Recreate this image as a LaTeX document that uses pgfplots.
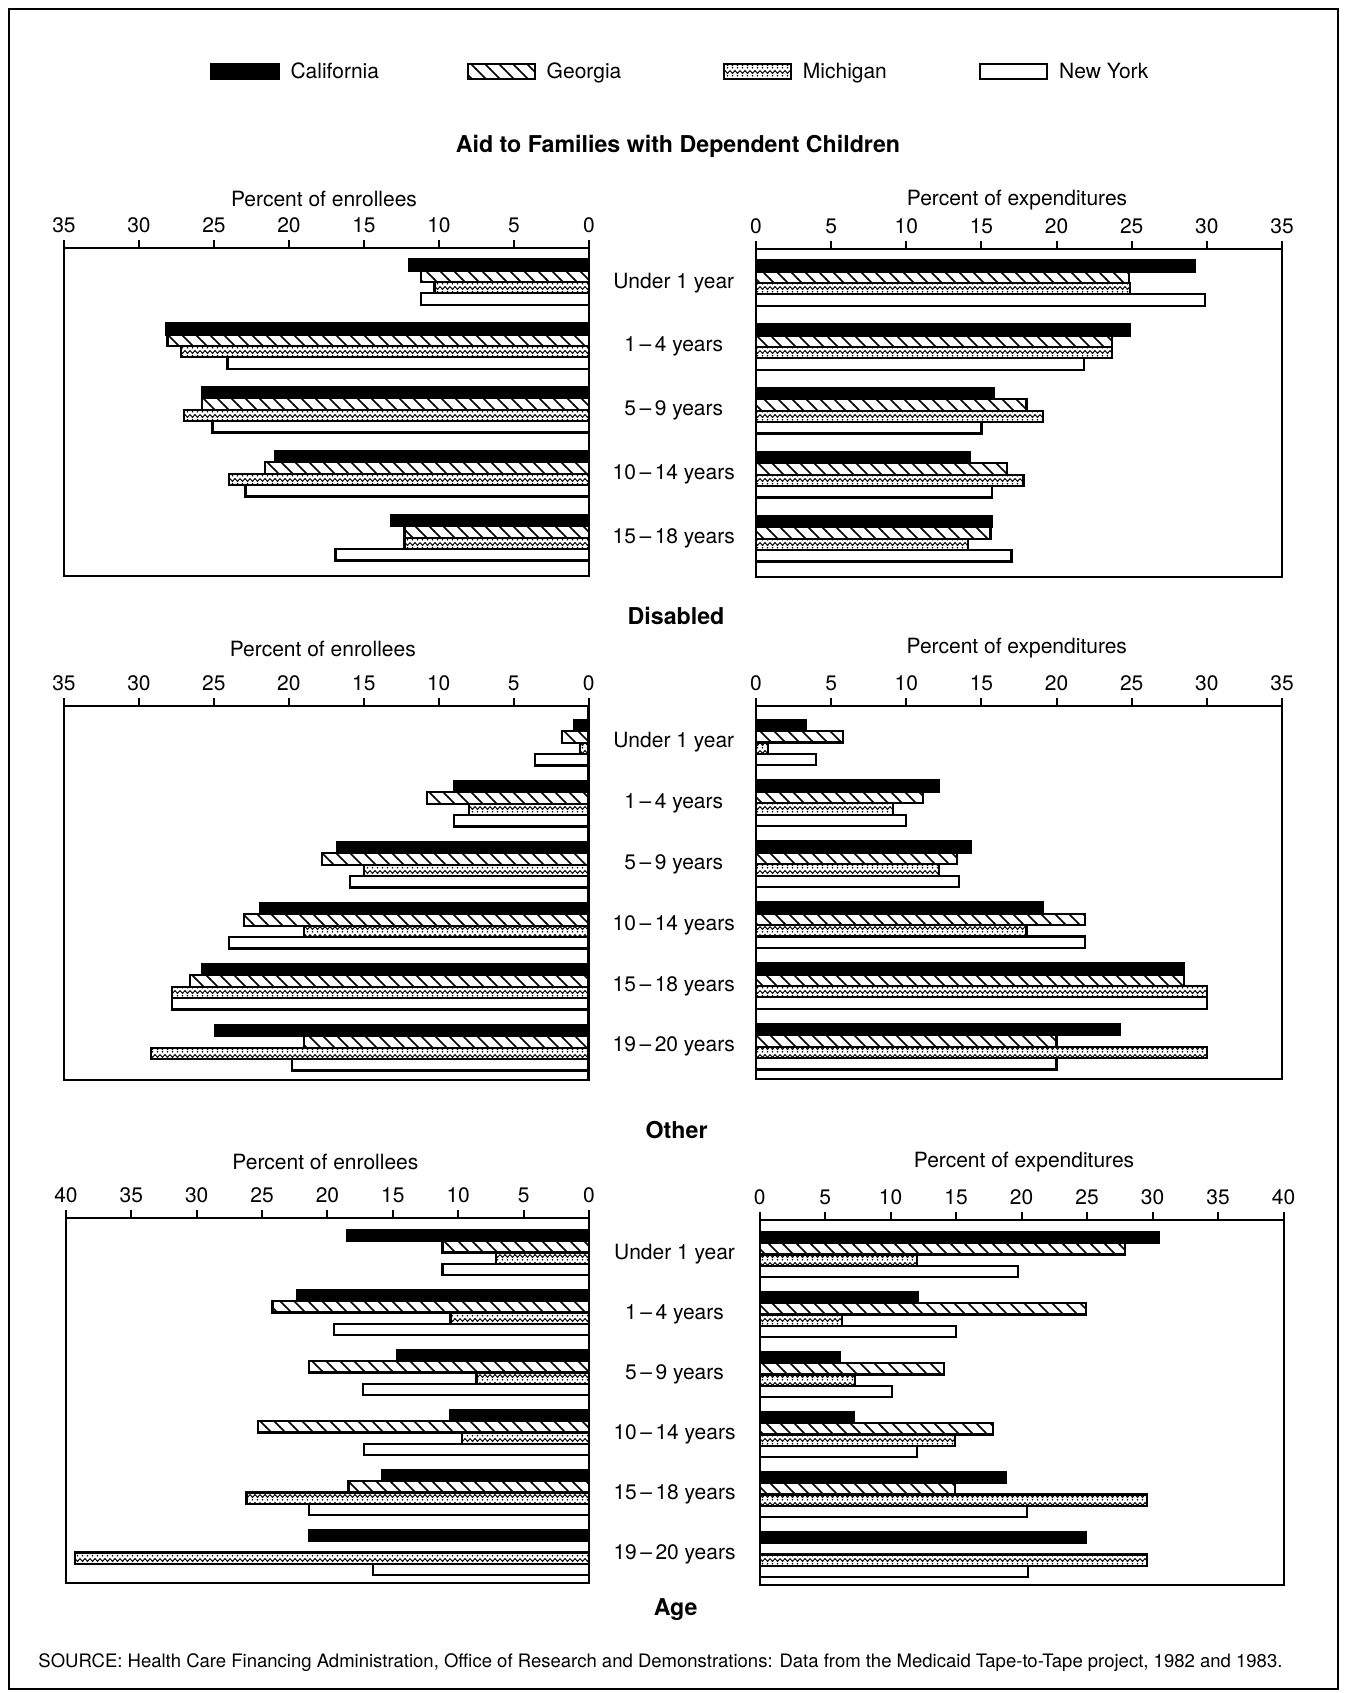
\documentclass[border=0pt]{standalone}
\usepackage{fontspec}
\setmainfont{TeX Gyre Heros}
\usepackage{pgfplots}
\pgfplotsset{compat=1.18}
\usetikzlibrary{patterns}

\newcommand\fs{\fontsize{10.5}{12}\selectfont}
\newcommand\bfs{\fontsize{11.6}{13}\selectfont\bfseries}

\pgfdeclarepatternformonly{georgia}{\pgfqpoint{-1pt}{-1pt}}{\pgfqpoint{8pt}{8pt}}{\pgfqpoint{7pt}{7pt}}{%
  \pgfsetlinewidth{0.8pt}%
  \pgfpathmoveto{\pgfqpoint{-0.1pt}{7.1pt}}%
  \pgfpathlineto{\pgfqpoint{7.1pt}{-0.1pt}}%
  \pgfusepath{stroke}}

\pgfdeclarepatternformonly{michigan}{\pgfqpoint{-0.5pt}{-0.5pt}}{\pgfqpoint{5.5pt}{4.5pt}}{\pgfqpoint{5pt}{4pt}}{%
  \pgfsetlinewidth{0.5pt}%
  \pgfpathmoveto{\pgfqpoint{0pt}{3.2pt}}%
  \pgfpathlineto{\pgfqpoint{1.25pt}{1.8pt}}%
  \pgfpathlineto{\pgfqpoint{2.5pt}{3.2pt}}%
  \pgfpathlineto{\pgfqpoint{3.75pt}{1.8pt}}%
  \pgfpathlineto{\pgfqpoint{5pt}{3.2pt}}%
  \pgfusepath{stroke}%
  \pgfpathcircle{\pgfqpoint{1.25pt}{0.6pt}}{0.45pt}%
  \pgfpathcircle{\pgfqpoint{3.75pt}{0.6pt}}{0.45pt}%
  \pgfusepath{fill}}

\pgfplotsset{
  panel/.style={
    scale only axis, xbar, bar width=5.7pt, anchor=north west,
    y dir=reverse, ytick=\empty, xmin=0, clip=false,
    xticklabel pos=upper, xtick pos=upper,
    tick align=outside, major tick length=4pt,
    axis line style={line width=1.1pt},
    xtick style={black, line width=1pt},
    ticklabel style={font=\fs},
    /pgf/number format/assume math mode=true,
  },
  leftp/.style={panel, x dir=reverse},
  rightp/.style={panel, ytick={0,...,#1}, ytick style={draw=none},
     yticklabel style={anchor=center, xshift=-37.1pt, font=\fs}},
  ca/.style={fill=black, draw=black, line width=1.1pt, bar shift=8.55pt},
  ga/.style={pattern=georgia, draw=black, line width=1.1pt, bar shift=2.85pt},
  mi/.style={pattern=michigan, draw=black, line width=1.1pt, bar shift=-2.85pt},
  ny/.style={fill=white, draw=black, line width=1.1pt, bar shift=-8.55pt},
  sw/.style={legend image code/.code={\draw[##1] (0pt,-3.75pt) rectangle (33.5pt,3.75pt);}},
}

\begin{document}
\begin{tikzpicture}
\path (0pt,0pt) rectangle (673.5pt,-846.5pt);
\draw[line width=1pt] (4.5pt,-4.5pt) rectangle (669pt,-844.5pt);

% ---------------- AFDC ----------------
\begin{axis}[leftp, at={(32pt,-124pt)}, width=262.5pt, height=164pt,
  xmax=35, xtick={0,5,...,35}, ymin=-0.53, ymax=4.6,
  legend columns=4,
  legend style={at={(0.278,1.537)}, anchor=west, draw=none, inner sep=0pt,
    column sep=0pt, nodes={inner sep=0pt, font=\fs},
    /tikz/every odd column/.append style={column sep=5.5pt}}]
\addplot[ca, sw] coordinates {(12.0,0) (28.2,1) (25.8,2) (20.9,3) (13.2,4)};
\addlegendentry{\makebox[88pt][l]{California}}
\addplot[ga, sw] coordinates {(11.2,0) (28.1,1) (25.8,2) (21.6,3) (12.3,4)};
\addlegendentry{\makebox[88pt][l]{Georgia}}
\addplot[mi, sw] coordinates {(10.3,0) (27.2,1) (27.0,2) (24.0,3) (12.3,4)};
\addlegendentry{\makebox[88pt][l]{Michigan}}
\addplot[ny, sw] coordinates {(11.2,0) (24.1,1) (25.1,2) (22.9,3) (16.9,4)};
\addlegendentry{\makebox[88pt][l]{New York}}
\end{axis}

\begin{axis}[rightp=4, at={(378pt,-124.5pt)}, width=263pt, height=164pt,
  xmax=35, xtick={0,5,...,35}, ymin=-0.53, ymax=4.6,
  yticklabels={Under 1 year, 1\,–\,4 years, 5\,–\,9 years, 10\,–\,14 years, 15\,–\,18 years}]
\addplot[ca] coordinates {(29.2,0) (24.9,1) (15.8,2) (14.2,3) (15.7,4)};
\addplot[ga] coordinates {(24.8,0) (23.7,1) (18.0,2) (16.7,3) (15.6,4)};
\addplot[mi] coordinates {(24.9,0) (23.7,1) (19.1,2) (17.8,3) (14.1,4)};
\addplot[ny] coordinates {(29.9,0) (21.8,1) (15.0,2) (15.7,3) (17.0,4)};
\end{axis}

% ---------------- Disabled ----------------
\begin{axis}[leftp, at={(32pt,-353pt)}, width=262.3pt, height=187pt,
  xmax=35, xtick={0,5,...,35}, ymin=-0.6, ymax=5.53]
\addplot[ca] coordinates {(1.0,0) (9.0,1) (16.8,2) (21.9,3) (25.8,4) (24.9,5)};
\addplot[ga] coordinates {(1.8,0) (10.8,1) (17.8,2) (23.0,3) (26.6,4) (19.0,5)};
\addplot[mi] coordinates {(0.6,0) (8.0,1) (15.0,2) (19.0,3) (27.8,4) (29.2,5)};
\addplot[ny] coordinates {(3.6,0) (9.0,1) (15.9,2) (24.0,3) (27.8,4) (19.8,5)};
\end{axis}

\begin{axis}[rightp=5, at={(378pt,-353pt)}, width=263pt, height=186.5pt,
  xmax=35, xtick={0,5,...,35}, ymin=-0.6, ymax=5.53,
  yticklabels={Under 1 year, 1\,–\,4 years, 5\,–\,9 years, 10\,–\,14 years, 15\,–\,18 years, 19\,–\,20 years}]
\addplot[ca] coordinates {(3.3,0) (12.2,1) (14.3,2) (19.1,3) (28.5,4) (24.2,5)};
\addplot[ga] coordinates {(5.8,0) (11.1,1) (13.4,2) (21.9,3) (28.5,4) (20.0,5)};
\addplot[mi] coordinates {(0.8,0) (9.1,1) (12.2,2) (18.0,3) (30.0,4) (30.0,5)};
\addplot[ny] coordinates {(4.0,0) (10.0,1) (13.5,2) (21.9,3) (30.0,4) (20.0,5)};
\end{axis}

% ---------------- Other ----------------
\begin{axis}[leftp, at={(33pt,-609pt)}, width=261.5pt, height=182.5pt,
  xmax=40, xtick={0,5,...,40}, ymin=-0.575, ymax=5.51]
\addplot[ca] coordinates {(18.5,0) (22.3,1) (14.7,2) (10.6,3) (15.8,4) (21.4,5)};
\addplot[ga] coordinates {(11.2,0) (24.2,1) (21.4,2) (25.3,3) (18.4,4)};
\addplot[mi] coordinates {(7.1,0) (10.6,1) (8.6,2) (9.7,3) (26.2,4) (39.3,5)};
\addplot[ny] coordinates {(11.2,0) (19.5,1) (17.3,2) (17.2,3) (21.4,4) (16.5,5)};
\end{axis}

\begin{axis}[rightp=5, at={(379.8pt,-610pt)}, width=262pt, height=182.5pt,
  xmax=40, xtick={0,5,...,40}, ymin=-0.575, ymax=5.51,
  yticklabel style={xshift=-1.4pt},
  yticklabels={Under 1 year, 1\,–\,4 years, 5\,–\,9 years, 10\,–\,14 years, 15\,–\,18 years, 19\,–\,20 years}]
\addplot[ca] coordinates {(30.5,0) (12.1,1) (6.1,2) (7.2,3) (18.8,4) (24.9,5)};
\addplot[ga] coordinates {(27.9,0) (24.9,1) (14.1,2) (17.8,3) (14.9,4)};
\addplot[mi] coordinates {(12.0,0) (6.3,1) (7.3,2) (14.9,3) (29.6,4) (29.6,5)};
\addplot[ny] coordinates {(19.7,0) (15.0,1) (10.1,2) (12.0,3) (20.4,4) (20.5,5)};
\end{axis}

% ---------------- texts ----------------
\node[font=\bfs] at (339pt,-73pt) {Aid to Families with Dependent Children};
\node[font=\fs] at (162pt,-99.5pt) {Percent of enrollees};
\node[font=\fs] at (508.5pt,-100pt) {Percent of expenditures};
\node[font=\bfs] at (338pt,-308pt) {Disabled};
\node[font=\fs] at (161.4pt,-324.5pt) {Percent of enrollees};
\node[font=\fs] at (508.4pt,-324pt) {Percent of expenditures};
\node[font=\bfs] at (338.3pt,-565pt) {Other};
\node[font=\fs] at (162.7pt,-581pt) {Percent of enrollees};
\node[font=\fs] at (512pt,-581pt) {Percent of expenditures};
\node[font=\bfs] at (337.8pt,-805pt) {Age};
\node[anchor=west, inner sep=0pt] at (19pt,-831.5pt)
  {\resizebox{622pt}{!}{\fontsize{9}{10}\selectfont SOURCE: Health Care Financing Administration, Office of Research and Demonstrations: Data from the Medicaid Tape-to-Tape project, 1982 and 1983.}};
\end{tikzpicture}
\end{document}
